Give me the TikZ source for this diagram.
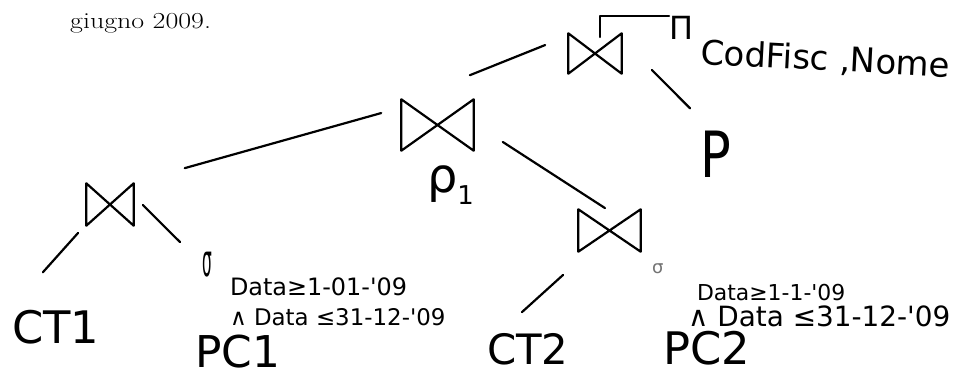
\documentclass[tikz,border=0pt]{standalone}
\usepackage{fontspec}
\newfontfamily\hand{DejaVu Sans}
\tikzset{
  stroke/.style={line width=2.2bp, line cap=round, line join=round},
  joinop/.style 2 args={minimum width=#1, minimum height=#2, inner sep=0pt, outer sep=0pt, draw=none,
    path picture={\draw[stroke]
      ([shift={(1.3pt,-1.3pt)}]path picture bounding box.north west) --
      ([shift={(1.3pt,1.3pt)}]path picture bounding box.south west) --
      ([shift={(-1.3pt,-1.3pt)}]path picture bounding box.north east) --
      ([shift={(-1.3pt,1.3pt)}]path picture bounding box.south east) -- cycle;}},
  hw/.style={inner sep=0pt, outer sep=0pt, anchor=base west, font=\hand\fontsize{#1}{#1}\selectfont},
}
\begin{document}
\begin{tikzpicture}[x=1bp,y=-1bp]
\fill[white] (0,0) rectangle (964,376);
\useasboundingbox (0,0) rectangle (964,376);

% caption fragment
\node[inner sep=0pt, anchor=base west, font=\fontsize{23}{23}\selectfont] (title) at (70,28) {\scalebox{1.22}[1]{giugno 2009.}};

% join operators
\node[joinop={56bp}{43bp}] (J0) at (595,53.5) {};
\node[joinop={75bp}{54bp}] (J1) at (437.5,125) {};
\node[joinop={50bp}{45bp}] (J2) at (110,204.5) {};
\node[joinop={65bp}{45bp}] (J3) at (609.5,230.5) {};

% projection
\node[hw=32] (pi) at (669,39) {Π};
\node[hw=34, rotate=-3] (attr) at (700,64) {CodFisc ,Nome};

% leaves and labels
\node[hw=64] (P) at (700,177) {\scalebox{0.8}[1]{P}};
\node[hw=48] (rho) at (427,192) {ρ{\fontsize{26}{26}\selectfont\raisebox{-13pt}{1}}};
\node[hw=45] (CT1) at (12,343) {CT1};
\node[hw=44] (PC1) at (195,367) {PC1};
\node[hw=42] (CT2) at (487,364) {CT2};
\node[hw=45] (PC2) at (663,364) {PC2};

% selection 1
\node[hw=28] (s1) at (202,276) {\scalebox{0.55}[1.6]{σ}};
\node[hw=24] (c1a) at (230,295) {Data≥1-01-'09};
\node[hw=23] (c1b) at (230,325) {∧ Data ≤31-12-'09};

% selection 2
\node[hw=18, text=black!55] (s2) at (652,273) {σ};
\node[hw=22] (c2a) at (697,300) {Data≥1-1-'09};
\node[hw=28] (c2b) at (688,326) {∧ Data ≤31-12-'09};

% connectors
\draw[stroke] ([shift={(5pt,16.5pt)}]J0.center) |- (pi.north west);
\draw[stroke] ([shift={(-50pt,8.5pt)}]J0.center) -- ([shift={(32.5pt,50pt)}]J1.center);
\draw[stroke] ([shift={(57pt,-16.5pt)}]J0.center) -- ([shift={(-10pt,69pt)}]P.base west);
\draw[stroke] ([shift={(-56.5pt,12pt)}]J1.center) -- ([shift={(75pt,36.5pt)}]J2.center);
\draw[stroke] ([shift={(65.5pt,-17pt)}]J1.center) -- ([shift={(-4.5pt,22.5pt)}]J3.center);
\draw[stroke] ([shift={(-32pt,-28.5pt)}]J2.center) -- ([shift={(31pt,71pt)}]CT1.base west);
\draw[stroke] ([shift={(33pt,-0.5pt)}]J2.center) -- ([shift={(-22pt,34pt)}]s1.base west);
\draw[stroke] ([shift={(-46.5pt,-44.5pt)}]J3.center) -- ([shift={(35pt,52pt)}]CT2.base west);
\end{tikzpicture}
\end{document}
